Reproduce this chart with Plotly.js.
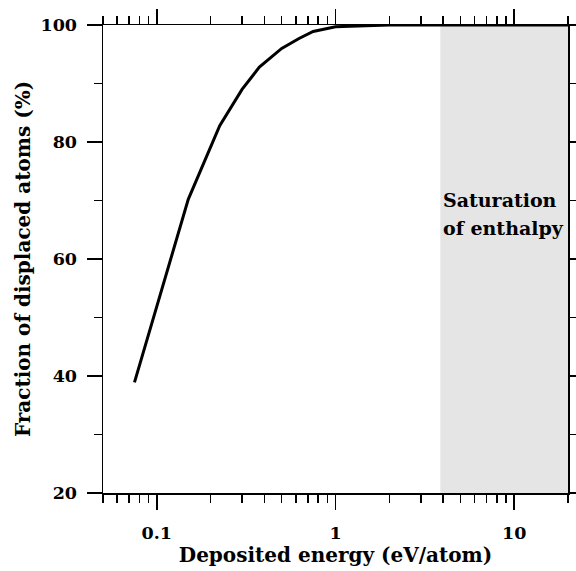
<!DOCTYPE html>
<html>
<head>
<meta charset="utf-8">
<script src="https://cdn.plot.ly/plotly-3.0.1.min.js"></script>
<style>html,body{margin:0;padding:0;background:#fff;}#chart{width:576px;height:571px;}</style>
</head>
<body>
<div id="chart"></div>
<script>
// Data
const energy = [0.075, 0.15, 0.225, 0.3, 0.375, 0.5, 0.625, 0.75, 1.0, 1.5, 2, 5, 10, 20];
const fraction = [38.9, 70.2, 82.8, 89.0, 92.8, 96.0, 97.7, 98.9, 99.7, 99.95, 100, 100, 100, 100];
const shadeStart = 3.86;
const shadeEnd = 20;
const annotationLines = ["Saturation", "of enthalpy"];
const annotationY = [70.1, 65.3];
const xMajorTicks = [0.1, 1, 10];
const xMajorLabels = ["0.1", "1", "10"];
const xMinorTicks = [0.05,0.06,0.07,0.08,0.09,0.2,0.3,0.4,0.5,0.6,0.7,0.8,0.9,2,3,4,5,6,7,8,9,20];
const yMajorTicks = [20, 40, 60, 80, 100];
const yMinorTicks = [30, 50, 70, 90];
const xTitle = "Deposited energy (eV/atom)";
const yTitle = "Fraction of displaced atoms (%)";

const fontFam = "DejaVu Serif, serif";
const tickFont = {family: fontFam, size: 17.5, color: "#000", weight: "bold"};
const titleFont = {family: fontFam, size: 20, color: "#000", weight: "bold"};
const annFont = {family: fontFam, size: 19, color: "#000", weight: "bold"};

const trace = {
  x: energy, y: fraction, type: "scatter", mode: "lines",
  line: {color: "#000", width: 3}, hoverinfo: "skip", showlegend: false
};

const layout = {
  width: 576, height: 571,
  margin: {l: 103, r: 8, t: 25, b: 78},
  paper_bgcolor: "#fff", plot_bgcolor: "#fff",
  font: tickFont,
  showlegend: false,
  xaxis: {
    type: "log",
    range: [Math.log10(0.05), Math.log10(20)],
    tickmode: "array", tickvals: xMajorTicks, ticktext: xMajorLabels,
    ticks: "outside", ticklen: 15, tickwidth: 1.5, tickcolor: "#000",
    minor: {tickmode: "array", tickvals: xMinorTicks, ticks: "outside", ticklen: 8, tickwidth: 1.5, tickcolor: "#000", showgrid: false},
    showline: true, linecolor: "#000", linewidth: 1.5, mirror: "ticks",
    showgrid: false, zeroline: false,
    tickfont: tickFont, ticklabelstandoff: 8,
    title: {text: xTitle, font: titleFont, standoff: 6}
  },
  yaxis: {
    range: [20, 100],
    tickmode: "array", tickvals: yMajorTicks,
    ticks: "outside", ticklen: 15, tickwidth: 1.5, tickcolor: "#000",
    minor: {tickmode: "array", tickvals: yMinorTicks, ticks: "outside", ticklen: 8, tickwidth: 1.5, tickcolor: "#000", showgrid: false},
    showline: true, linecolor: "#000", linewidth: 1.5, mirror: "ticks",
    showgrid: false, zeroline: false,
    tickfont: tickFont, ticklabelstandoff: 6,
    title: {text: yTitle, font: titleFont, standoff: 4}
  },
  shapes: [{
    type: "rect", xref: "x", yref: "paper",
    x0: shadeStart, x1: shadeEnd, y0: 0, y1: 1,
    fillcolor: "#e5e5e5", line: {width: 0}, layer: "below"
  }],
  annotations: annotationLines.map((t, i) => ({
    xref: "x", yref: "y",
    x: Math.log10(shadeStart), y: annotationY[i],
    xanchor: "left", yanchor: "middle", align: "left",
    xshift: 1,
    text: t,
    showarrow: false, font: annFont
  }))
};

Plotly.newPlot("chart", [trace], layout, {displayModeBar: false, staticPlot: true});
</script>
</body>
</html>
